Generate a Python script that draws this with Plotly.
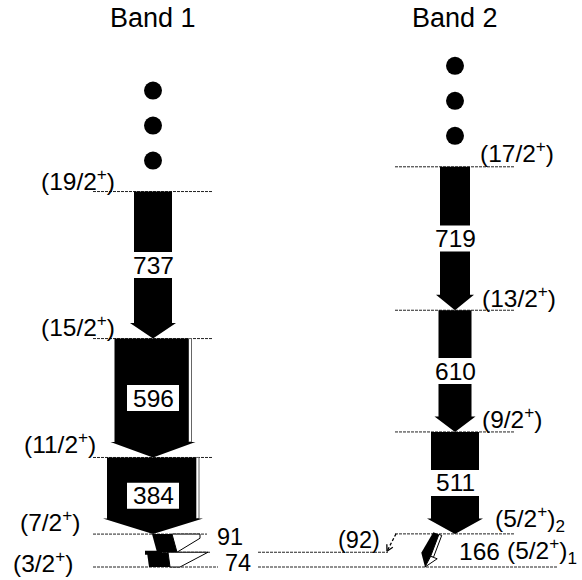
import math
import plotly.graph_objects as go

# ---------------- data ----------------
band_titles = ["Band 1", "Band 2"]

band1_levels = [0, 74, 165, 549, 1145, 1882]          # keV
band1_spins = ["(3/2<sup>+</sup>)", "", "(7/2<sup>+</sup>)", "(11/2<sup>+</sup>)",
               "(15/2<sup>+</sup>)", "(19/2<sup>+</sup>)"]
band2_levels = [0, 74, 166, 677, 1287, 2006]          # keV
band2_spins = ["", "(5/2<sup>+</sup>)<sub>1</sub>", "(5/2<sup>+</sup>)<sub>2</sub>",
               "(9/2<sup>+</sup>)", "(13/2<sup>+</sup>)", "(17/2<sup>+</sup>)"]

# transitions (gamma energy, from-level energy, to-level energy, gamma / conversion intensity)
band1_gammas = ["737", "596", "384", "91", "74"]
band1_from = [1882, 1145, 549, 165, 74]
band1_to = [1145, 549, 165, 74, 0]
band1_gamma_int = [38, 74, 89, 20, 21]
band1_ce_int = [0, 3, 3, 23, 28]

band2_gammas = ["719", "610", "511", "166", "(92)"]
band2_from = [2006, 1287, 677, 166, 166]
band2_to = [1287, 677, 166, 0, 74]
band2_gamma_int = [30, 33, 48, 6, 1]
band2_ce_int = [0, 0, 0, 3, 0]

# ---------------- style / geometry ----------------
W, H = 582, 580
Y0 = 567.0          # pixel row of 0 keV
K = 0.1995          # px per keV
YMIN = (Y0 - H) / K
YMAX = Y0 / K
XC = [153, 455]     # band centre columns
FONT = "Liberation Sans, Arial, sans-serif"
FS = 24.5
FS_TITLE = 27
FS_SMALL = 23.5
HEAD_H = 15.5
EXT = 4
GAP = 26


def P(e):            # energy -> pixel row (for geometry only)
    return Y0 - K * e


def E(py):           # pixel row -> energy (data coordinate)
    return (Y0 - py) / K


def path(pts):
    return "M " + " L ".join(f"{x:.2f},{E(y):.3f}" for x, y in pts) + " Z"


shapes = []
annotations = []


def poly(pts, fill="black", line_color="black", lw=0):
    shapes.append(dict(type="path", xref="x", yref="y", path=path(pts),
                       fillcolor=fill, line=dict(color=line_color, width=lw)))


def level(xc, e, x0off, x1off):
    shapes.append(dict(type="line", xref="x", yref="y",
                       x0=xc + x0off, x1=xc + x1off, y0=e, y1=e,
                       line=dict(color="#222222", width=1, dash="3px,1px")))


def text(x, y, s, xanchor="center", size=FS):
    annotations.append(dict(x=x, y=y, xref="x", yref="y", text=s, showarrow=False,
                            xanchor=xanchor, yanchor="middle",
                            font=dict(family=FONT, size=size, color="black")))


def vertical_arrow(xc, e_top, e_bot, wb, wce, label, mode):
    yt, yb = P(e_top), P(e_bot)
    Wt = wb + wce
    x0 = xc - Wt / 2
    xm = x0 + wb
    x1 = x0 + Wt
    yh = yb - HEAD_H
    ym = (yt + yb) / 2
    if mode == "gap":
        poly([(x0, yt), (xm, yt), (xm, ym - GAP / 2), (x0, ym - GAP / 2)])
        ys = ym + GAP / 2
    else:
        ys = yt
    if wce > 0:
        poly([(xm, ys), (x1, ys), (x1, yh), (xm, yh)], fill="white",
             line_color="#666666", lw=1)
    poly([(x0, ys), (xm, ys), (xm, yh), (x1 + EXT, yh), (xc, yb),
          (x0 - EXT, yh), (x0, yh)])
    if mode == "box":
        poly([(xc - 26, ym - 13), (xc + 26, ym - 13), (xc + 26, ym + 13), (xc - 26, ym + 13)],
             fill="white")
    text(xc, E(ym), label)


# ---------------- levels ----------------
b1_spans = {0: (-60, 65), 74: (-6, 57), 165: (-60, 54)}
for e in band1_levels:
    a, b = b1_spans.get(e, (-60, 60))
    level(XC[0], e, a, b)
b2_spans = {0: (-197, 103), 74: (-197, -67)}
for e in band2_levels:
    a, b = b2_spans.get(e, (-60, 60))
    level(XC[1], e, a, b)

# ---------------- band 1 transitions ----------------
modes1 = ["gap", "box", "box"]
for i in range(3):
    vertical_arrow(XC[0], band1_from[i], band1_to[i], band1_gamma_int[i],
                   band1_ce_int[i], band1_gammas[i], modes1[i])

# 91 keV (short, tilted)
xc = XC[0]
yt, yb = P(band1_from[3]), P(band1_to[3])
wb, wc = band1_gamma_int[3], band1_ce_int[3]
poly([(xc + 19, yt), (xc + 24, yb), (xc + 24 + wc, yb - 14), (xc + 24 + wc, yt)],
     fill="white", line_color="black", lw=1)
poly([(xc - 1, yt), (xc - 1 + wb, yt), (xc + 4 + wb, yb), (xc + 4, yb)])
text(xc + 62, E(537), band1_gammas[3], xanchor="left", size=FS_SMALL)

# 74 keV
yt, yb = P(band1_from[4]), P(band1_to[4])
wb, wc = band1_gamma_int[4], band1_ce_int[4]
poly([(xc + 15, yt), (xc + 17, yb), (xc + 27, yb), (xc + 27 + wc, yt)],
     fill="white", line_color="black", lw=1)
poly([(xc - 6, yt), (xc - 6 + wb, yt), (xc - 4 + wb, yb), (xc - 4, yb)])
poly([(xc - 8, yt - 1.5), (xc + 9, yt - 1.5), (xc + 9, yt + 2.5), (xc - 8, yt + 2.5)])
text(xc + 70, E(563), band1_gammas[4], xanchor="left", size=FS_SMALL)

# ---------------- band 2 transitions ----------------
for i in range(3):
    vertical_arrow(XC[1], band2_from[i], band2_to[i], band2_gamma_int[i],
                   band2_ce_int[i], band2_gammas[i], "gap")

# 166 keV tilted arrow
xc = XC[1]
T = (xc - 17.5, P(band2_from[3]))
B = (xc - 30, P(band2_to[3]))
wb, wc = band2_gamma_int[3], band2_ce_int[3]
Wt = wb + wc
dx, dy = B[0] - T[0], B[1] - T[1]
L = math.hypot(dx, dy)
d = (dx / L, dy / L)
n = (d[1], -d[0])
hh = 12
Hc = (B[0] - hh * d[0], B[1] - hh * d[1])


def off(p, s):
    return (p[0] + s * n[0], p[1] + s * n[1])


left, mid, right = -Wt / 2, -Wt / 2 + wb, Wt / 2
poly([off(T, mid), off(T, right), off(Hc, right), off(Hc, mid)], fill="white",
     line_color="black", lw=1)
poly([off(Hc, mid), off(Hc, right + 4), B], fill="white", line_color="black", lw=1)
poly([off(T, left), off(T, mid), off(Hc, mid), B, off(Hc, left - 4)])
text(xc + 2, E(551), band2_gammas[3], xanchor="left")

# (92) keV dashed arrow
T2 = (xc - 59, P(band2_from[4]))
B2 = (xc - 68, P(band2_to[4]) - 1)
shapes.append(dict(type="line", xref="x", yref="y", x0=T2[0], y0=E(T2[1]),
                   x1=B2[0], y1=E(B2[1]),
                   line=dict(color="black", width=1.3, dash="3px,2px")))
dx, dy = B2[0] - T2[0], B2[1] - T2[1]
L = math.hypot(dx, dy)
ux, uy = dx / L, dy / L
for ang in (0.5, -0.5):
    ca, sa = math.cos(ang), math.sin(ang)
    wx = -(ux * ca - uy * sa) * 7
    wy = -(ux * sa + uy * ca) * 7
    shapes.append(dict(type="line", xref="x", yref="y", x0=B2[0], y0=E(B2[1]),
                       x1=B2[0] + wx, y1=E(B2[1] + wy),
                       line=dict(color="black", width=1.3)))
text(xc - 73, E(540), band2_gammas[4], xanchor="right", size=FS_SMALL)

# ---------------- spin labels ----------------
b1_label_x = [75, None, 82, 98, 117, 117]
b1_label_dy = [-6, 0, -14, -15, -13, -12]
for e, s, lx, dyy in zip(band1_levels, band1_spins, b1_label_x, b1_label_dy):
    if s:
        text(lx, E(P(e) + dyy), s, xanchor="right")
b2_label_x = [None, 505, 493, 480, 480, 478]
b2_label_dy = [0, -2, -15, -14, -14, -15]
for e, s, lx, dyy in zip(band2_levels, band2_spins, b2_label_x, b2_label_dy):
    if s:
        text(lx, E(P(e) + dyy), s, xanchor="left")

# ---------------- titles ----------------
for xc, t in zip(XC, band_titles):
    text(xc, E(18), t, size=FS_TITLE)

# ---------------- continuation dots ----------------
dot_offsets_px = [31, 66, 101]
fig = go.Figure()
for xc, top in zip(XC, [band1_levels[-1], band2_levels[-1]]):
    fig.add_trace(go.Scatter(
        x=[xc] * 3, y=[E(P(top) - o) for o in dot_offsets_px], mode="markers",
        marker=dict(size=18, color="black"), hoverinfo="skip"))

fig.update_layout(
    width=W, height=H, margin=dict(l=0, r=0, t=0, b=0),
    paper_bgcolor="white", plot_bgcolor="white", showlegend=False,
    shapes=shapes, annotations=annotations,
    xaxis=dict(range=[0, W], visible=False, fixedrange=True),
    yaxis=dict(range=[YMIN, YMAX], visible=False, fixedrange=True),
)
fig.write_html("out.html")
